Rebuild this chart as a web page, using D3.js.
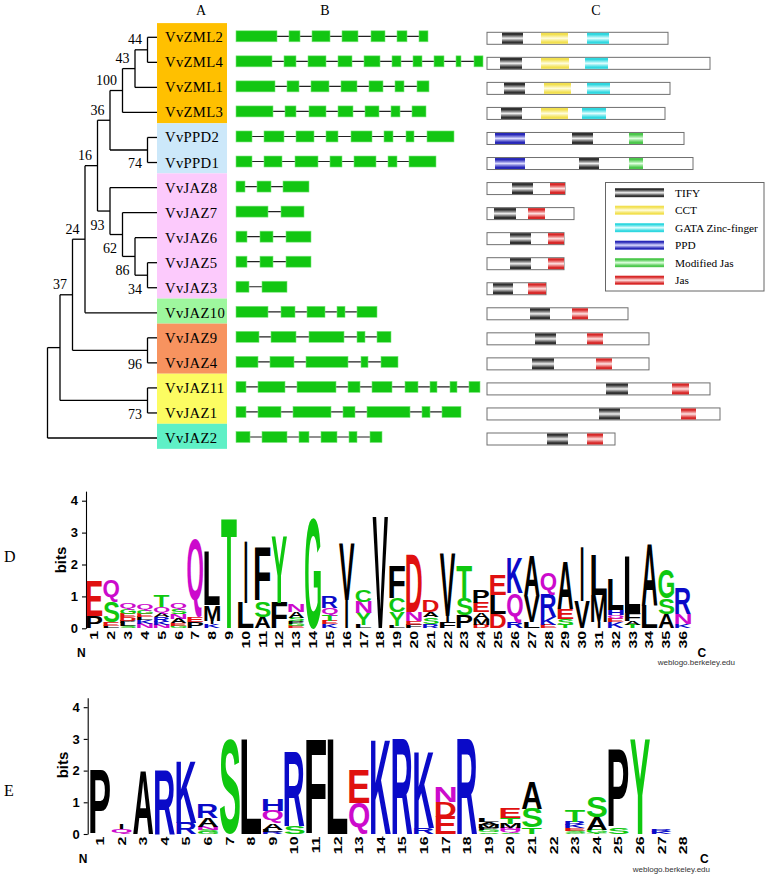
<!DOCTYPE html>
<html><head><meta charset="utf-8">
<script src="https://cdn.jsdelivr.net/npm/d3@7"></script>
<style>body{margin:0;background:#fff}</style>
</head><body><svg id="c" width="771" height="877"></svg>
<script>
// ---------------- DATA ----------------
const genes = ["VvZML2","VvZML4","VvZML1","VvZML3","VvPPD2","VvPPD1","VvJAZ8","VvJAZ7","VvJAZ6","VvJAZ5","VvJAZ3","VvJAZ10","VvJAZ9","VvJAZ4","VvJAZ11","VvJAZ1","VvJAZ2"];
const treeNewick = "(((((((((VvZML2,VvZML4)44,VvZML1)43,VvZML3)100,(VvPPD2,VvPPD1)74)36,(VvJAZ8,(VvJAZ7,(VvJAZ6,(VvJAZ5,VvJAZ3)34)86)62)93)16,VvJAZ10)24,(VvJAZ9,VvJAZ4)96)37,(VvJAZ11,VvJAZ1)73),VvJAZ2);";
const supportBelow = [74,93,62,86,34,96,73];
const groupStart = [0,4,6,11,12,14,16];
const groupEnd   = [3,5,10,11,13,15,16];
const groupColors = ["#ffc000","#cce8fa","#fccafc","#9ef79e","#f7935f","#fcfc62","#5ff0c6"];
const columnHeads = ["A","B","C"];

// exon intervals (relative units) per gene
const exons = [
 [[0,41],[53,64],[76,94],[106,122],[135,149],[161,171],[183,192]],
 [[0,36],[48,60],[72,90],[102,116],[128,144],[156,165],[177,186],[198,208],[220,225],[238,247]],
 [[0,39],[51,63],[75,93],[105,121],[133,147],[159,168],[181,193]],
 [[0,37],[49,60],[73,90],[102,117],[129,143],[155,164],[176,190]],
 [[0,16],[28,48],[60,78],[90,102],[115,136],[148,157],[170,178],[191,218]],
 [[0,16],[28,46],[59,82],[94,106],[118,140],[152,161],[173,200]],
 [[0,9],[21,35],[47,73]],
 [[0,32],[45,68]],
 [[0,11],[24,37],[50,75]],
 [[0,11],[24,37],[50,75]],
 [[0,13],[26,51]],
 [[0,32],[45,59],[71,89],[101,109],[121,141]],
 [[0,23],[35,60],[73,108],[121,129],[141,155]],
 [[0,22],[34,58],[70,112],[125,132],[145,162]],
 [[0,10],[22,49],[61,100],[112,124],[136,156],[169,182],[194,201],[214,221],[233,244]],
 [[0,10],[22,45],[57,95],[107,119],[131,174],[186,194],[206,225]],
 [[0,14],[26,51],[63,73],[85,101],[113,121],[134,146]]
];
// protein lengths and domains (relative units)
const protLen = [181,223,183,178,197,206,78,87,77,77,59,141,162,162,223,233,128];
const domains = [
 [["TIFY",15,36],["CCT",54,81],["GATA",100,122]],
 [["TIFY",13,35],["CCT",54,82],["GATA",98,121]],
 [["TIFY",17,38],["CCT",57,84],["GATA",100,123]],
 [["TIFY",14,35],["CCT",54,81],["GATA",95,119]],
 [["PPD",8,38],["TIFY",85,106],["MJAS",142,156]],
 [["PPD",8,38],["TIFY",92,112],["MJAS",142,156]],
 [["TIFY",25,46],["JAS",63,78]],
 [["TIFY",7,29],["JAS",41,58]],
 [["TIFY",23,44],["JAS",61,77]],
 [["TIFY",23,44],["JAS",61,77]],
 [["TIFY",6,26],["JAS",41,59]],
 [["TIFY",43,63],["JAS",85,101]],
 [["TIFY",48,69],["JAS",100,116]],
 [["TIFY",45,67],["JAS",109,125]],
 [["TIFY",119,141],["JAS",185,202]],
 [["TIFY",112,133],["JAS",194,209]],
 [["TIFY",60,81],["JAS",100,116]]
];
const domainKeys = ["TIFY","CCT","GATA","PPD","MJAS","JAS"];
const domainNames = ["TIFY","CCT","GATA Zinc-finger","PPD","Modified Jas","Jas"];
const domainDark  = ["#303030","#f2e050","#30d8e0","#2828b8","#4cc84c","#d82828"];
const domainLight = ["#f0f0f0","#fffde0","#e4ffff","#dcdcff","#e0ffe0","#ffe4e4"];

// sequence logo D (bottom -> top, bits)
const logoD = [
 [["P",.37],["E",1.1]],
 [["L",.08],["E",.1],["S",.65],["Q",.7]],
 [["S",.08],["L",.1],["P",.06],["D",.1],["E",.12],["G",.15],["Q",.18]],
 [["N",.15],["K",.1],["L",.1],["E",.1],["G",.1],["Q",.2]],
 [["N",.1],["K",.1],["R",.15],["A",.13],["Q",.2],["T",.35]],
 [["G",.08],["E",.08],["A",.14],["N",.14],["S",.15],["Q",.2]],
 [["P",.2],["E",.15],["Q",2.45]],
 [["K",.12],["I",.12],["M",.5],["L",1.7]],
 [["T",3.47]],
 [["L",.78],["I",1.94]],
 [["A",.35],["S",.5],["F",1.65]],
 [["F",.8],["Y",2.1]],
 [["E",.06],["G",.08],["P",.08],["S",.1],["A",.2],["N",.25]],
 [["G",3.47]],
 [["K",.12],["E",.1],["T",.18],["Q",.25],["R",.35]],
 [["I",.9],["V",1.75]],
 [["L",.1],["Y",.38],["N",.35],["C",.35]],
 [["V",3.5]],
 [["L",.08],["Y",.42],["C",.45],["F",1.03]],
 [["F",.1],["E",.12],["N",.3],["D",1.8]],
 [["R",.12],["S",.22],["A",.17],["D",.35]],
 [["F",.2],["I",.2],["V",1.95]],
 [["P",.4],["S",.55],["T",1.0]],
 [["D",.1],["M",.2],["A",.2],["E",.3],["P",.4]],
 [["D",.45],["L",.6],["E",.65]],
 [["R",.2],["Q",.9],["K",1.1]],
 [["L",.2],["V",.8],["A",1.25]],
 [["E",.1],["K",.25],["R",.7],["Q",.7]],
 [["T",.1],["S",.2],["E",.3],["A",1.5]],
 [["V",.85],["I",1.7]],
 [["I",.2],["M",.85],["L",1.25]],
 [["K",.2],["E",.1],["Q",.12],["H",.15],["L",.95]],
 [["T",.1],["A",.12],["F",.25],["L",1.75]],
 [["L",.7],["A",1.95]],
 [["A",.45],["S",.5],["G",.9]],
 [["K",.12],["N",.33],["R",.8]]
];
// sequence logo E
const logoE = [
 [["P",2.0]],
 [["Q",.15],["I",.15]],
 [["A",2.0]],
 [["R",2.0]],
 [["R",.35],["K",1.95]],
 [["G",.06],["S",.06],["N",.1],["A",.3],["R",.45]],
 [["S",3.0]],
 [["L",3.0]],
 [["R",.06],["L",.08],["A",.2],["Q",.4],["H",.37]],
 [["S",.25],["R",2.35]],
 [["F",3.0]],
 [["L",3.0]],
 [["Q",.97],["E",1.05]],
 [["K",3.0]],
 [["R",3.0]],
 [["R",.18],["K",2.42]],
 [["E",.55],["D",.47],["N",.48]],
 [["R",3.0]],
 [["S",.05],["G",.08],["P",.06],["M",.1],["A",.08],["L",.1]],
 [["S",.04],["Q",.08],["N",.06],["M",.15],["T",.18],["E",.33]],
 [["T",.2],["S",.6],["A",.85]],
 [],
 [["G",.04],["S",.06],["E",.08],["K",.1],["R",.1],["T",.35]],
 [["T",.04],["G",.1],["A",.4],["S",.65]],
 [["S",.22],["P",2.45]],
 [["Y",3.0]],
 [["K",.07],["R",.08]],
 []
];
const bitTicks = [0,1,2,3,4];

// ---------------- DRAW ----------------
const svg = d3.select("#c");
const SERIF = "'Liberation Serif','Times New Roman',serif";
const SANS = "'Liberation Sans',Arial,sans-serif";

const yRow = d3.scaleLinear().domain([0,16]).range([37.3,438]);

// headers
const headX = [201,325,596];
svg.selectAll("text.head").data(columnHeads).join("text")
  .attr("x",(d,i)=>headX[i]).attr("y",15).attr("text-anchor","middle")
  .attr("font-family",SERIF).attr("font-size",14).text(d=>d);

// colored label boxes
const boxX = 157, boxW = 70;
groupStart.forEach((s,k)=>{
  const top = yRow(s)-14.2, bot = yRow(groupEnd[k])+10.85;
  svg.append("rect").attr("x",boxX).attr("y",top).attr("width",boxW).attr("height",bot-top).attr("fill",groupColors[k]);
});
svg.selectAll("text.gene").data(genes).join("text")
  .attr("x",165).attr("y",(d,i)=>yRow(i)+5).attr("font-family",SERIF).attr("font-size",14.7)
  .attr("letter-spacing",0.3).text(d=>d);

// tree
function parseNewick(s){
  let i=0;
  function node(){
    const n={};
    if(s[i]==='('){
      i++; n.children=[node()];
      while(s[i]===','){i++; n.children.push(node());}
      i++;
    }
    let name='';
    while(i<s.length && !',();'.includes(s[i])) name+=s[i++];
    if(n.children) n.support = name ? +name : null; else n.name=name;
    return n;
  }
  return node();
}
const root = d3.hierarchy(parseNewick(treeNewick));
const xTree = d3.scaleLinear().domain([0,9]).range([160,47.5]);
root.eachAfter(n=>{
  if(!n.children){ n.y = yRow(genes.indexOf(n.data.name)); n.x = boxX; }
  else { n.y = (n.children[0].y + n.children[n.children.length-1].y)/2; n.x = xTree(n.height); }
});
const tg = svg.append("g").attr("stroke","#000").attr("stroke-width",1.3).attr("fill","none");
root.descendants().forEach(n=>{
  if(n.parent) tg.append("line").attr("x1",n.parent.x).attr("x2",n.x).attr("y1",n.y).attr("y2",n.y);
  if(n.children) tg.append("line").attr("x1",n.x).attr("x2",n.x).attr("y1",n.children[0].y).attr("y2",n.children[n.children.length-1].y);
});
root.descendants().filter(n=>n.children && n.data.support!=null).forEach(n=>{
  const below = supportBelow.includes(n.data.support);
  svg.append("text").attr("x",n.x-5.5).attr("y",below? n.y+18.5 : n.y-5.5)
    .attr("text-anchor","end").attr("font-family",SERIF).attr("font-size",14).text(n.data.support);
});

// gene structures
const xGene = d3.scaleLinear().domain([0,250]).range([236,486]);
const gg = svg.append("g");
exons.forEach((ex,i)=>{
  const cy = yRow(i)-1;
  gg.append("line").attr("x1",xGene(ex[0][0])).attr("x2",xGene(ex[ex.length-1][1])).attr("y1",cy).attr("y2",cy)
    .attr("stroke","#222").attr("stroke-width",1.2);
  ex.forEach(e=>{
    gg.append("rect").attr("x",xGene(e[0])).attr("y",cy-5.5).attr("width",xGene(e[1])-xGene(e[0])).attr("height",11)
      .attr("fill","#12c612").attr("stroke","#7be87b").attr("stroke-width",0.6);
  });
});

// gradients
const defs = svg.append("defs");
domainKeys.forEach((k,i)=>{
  const gr = defs.append("linearGradient").attr("id","g"+k).attr("x1",0).attr("x2",0).attr("y1",0).attr("y2",1);
  const mid = d3.interpolateRgb(domainDark[i],domainLight[i])(0.55);
  [[0,domainDark[i]],[0.15,domainDark[i]],[0.35,mid],[0.5,domainLight[i]],[0.65,mid],[0.85,domainDark[i]],[1,domainDark[i]]].forEach(([o,c])=>
    gr.append("stop").attr("offset",o).attr("stop-color",c));
});

// proteins
const xProt = d3.scaleLinear().domain([0,240]).range([487,727]);
const pg = svg.append("g");
protLen.forEach((L,i)=>{
  const cy = yRow(i)+1;
  pg.append("rect").attr("x",xProt(0)).attr("y",cy-6).attr("width",xProt(L)-xProt(0)).attr("height",12)
    .attr("fill","#fff").attr("stroke","#707070").attr("stroke-width",1);
  domains[i].forEach(([k,a,b])=>{
    pg.append("rect").attr("x",xProt(a)).attr("y",cy-5.5).attr("width",xProt(b)-xProt(a)).attr("height",11)
      .attr("fill",`url(#g${k})`);
  });
});

// legend
const lg = svg.append("g");
lg.append("rect").attr("x",605.5).attr("y",182.5).attr("width",158.5).attr("height",108.5).attr("fill","#fff").attr("stroke","#666");
domainKeys.forEach((k,i)=>{
  const cy = 192.7 + i*17.5;
  lg.append("rect").attr("x",615).attr("y",cy-4.5).attr("width",49).attr("height",9).attr("fill",`url(#g${k})`);
  lg.append("text").attr("x",675).attr("y",cy+4).attr("font-family",SERIF).attr("font-size",11.3).text(domainNames[i]);
});

// ---------------- LOGOS ----------------
const mctx = document.createElement("canvas").getContext("2d");
mctx.font = "bold 100px 'Liberation Sans', Arial, sans-serif";
const mcache = {};
function metrics(ch){
  if(!mcache[ch]){ const m = mctx.measureText(ch);
    mcache[ch] = {l:m.actualBoundingBoxLeft, r:m.actualBoundingBoxRight, a:m.actualBoundingBoxAscent, d:m.actualBoundingBoxDescent}; }
  return mcache[ch];
}
function aaColor(ch){
  if("GSTYC".includes(ch)) return "#0fc80f";
  if("NQ".includes(ch)) return "#cc0acc";
  if("KRH".includes(ch)) return "#0a0ac8";
  if("DE".includes(ch)) return "#e01010";
  return "#000";
}
function drawLogo(cfg){
  const {data, axisX, y0, bitPx, colX0, colW, label, labelY, bitsY, webX, webY} = cfg;
  const g = svg.append("g");
  const y = d3.scaleLinear().domain([0,4.3]).range([y0, y0-4.3*bitPx]);
  const x = d3.scaleBand().domain(d3.range(1,data.length+1)).range([colX0, colX0+data.length*colW]);
  const ax = g.append("g").attr("transform",`translate(${axisX},0)`)
    .call(d3.axisLeft(y).tickValues(bitTicks).tickSize(4).tickSizeOuter(0).tickFormat(d3.format("d")));
  ax.select(".domain").attr("stroke","#000").attr("stroke-width",1.1);
  ax.selectAll(".tick line").attr("stroke-width",1.1);
  ax.selectAll("text").attr("font-family",SANS).attr("font-weight","bold").attr("font-size",13).attr("fill","#000").attr("dx",-1);
  g.append("text").attr("transform",`translate(${axisX-20},${bitsY}) rotate(-90)`).attr("text-anchor","middle")
    .attr("font-family",SANS).attr("font-weight","bold").attr("font-size",15).text("bits");
  data.forEach((stack,i)=>{
    let acc=0;
    const bw = x.bandwidth();
    const cx = x(i+1)+bw/2;
    stack.forEach(([ch,h])=>{
      const yb=y(acc), yt=y(acc+h); acc+=h;
      const m=metrics(ch);
      const inkW=m.l+m.r, inkH=m.a+m.d;
      const w = ch==="I" ? bw*0.16 : bw*0.93;
      const sx=w/inkW, sy=(yb-yt)/inkH;
      g.append("text").text(ch).attr("font-family",SANS).attr("font-weight","bold").attr("font-size",100)
        .attr("fill",aaColor(ch))
        .attr("transform",`translate(${cx-w/2},${yt}) scale(${sx},${sy}) translate(${m.l},${m.a})`);
    });
    g.append("text").text(i+1).attr("text-anchor","end").attr("font-family",SANS).attr("font-weight","bold").attr("font-size",11)
      .attr("transform",`translate(${cx+4},${y0+2.5}) rotate(-90) scale(1.45,1)`);
  });
  const xEnd = colX0 + data.length*colW;
  g.append("text").attr("x",axisX-9).attr("y",y0+29).attr("font-family",SANS).attr("font-weight","bold").attr("font-size",12).text("N");
  g.append("text").attr("x",xEnd+6).attr("y",y0+29).attr("font-family",SANS).attr("font-weight","bold").attr("font-size",12).text("C");
  g.append("text").attr("x",webX).attr("y",webY).attr("text-anchor","end").attr("font-family",SANS).attr("font-size",8).attr("fill","#333").text("weblogo.berkeley.edu");
  svg.append("text").attr("x",4).attr("y",labelY).attr("font-family",SERIF).attr("font-size",16).text(label);
}
drawLogo({data:logoD, axisX:86, y0:628.3, bitPx:31.9, colX0:86, colW:16.82, label:"D", labelY:562, bitsY:560, webX:735, webY:665});
drawLogo({data:logoE, axisX:87.7, y0:834, bitPx:31.7, colX0:89.2, colW:21.6, label:"E", labelY:796, bitsY:765, webX:710, webY:872});
</script></body></html>
